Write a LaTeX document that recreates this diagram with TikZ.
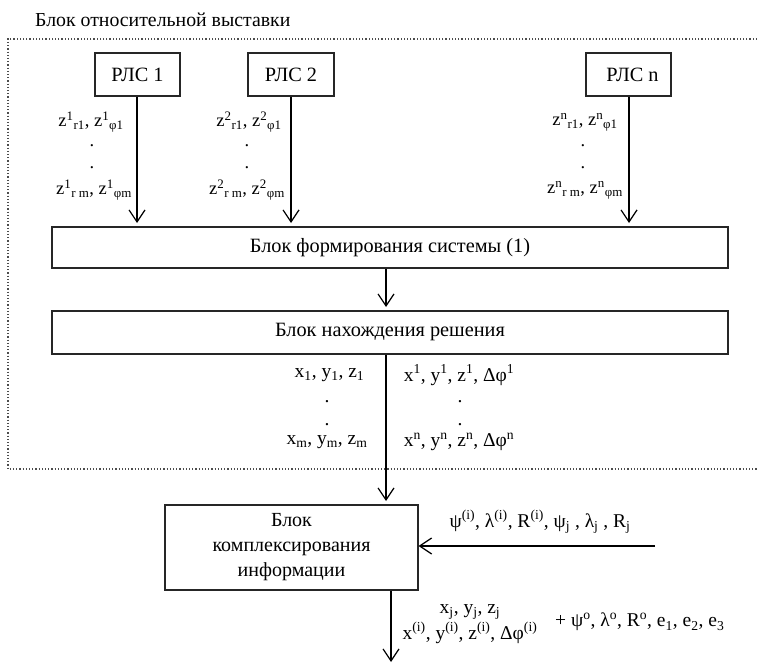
\documentclass[tikz,border=0pt]{standalone}
\usepackage{fontspec}
\setmainfont{Liberation Serif}
\usetikzlibrary{arrows.meta}
\newcommand{\sps}[1]{\textsuperscript{#1}}
\newcommand{\sbs}[1]{\textsubscript{#1}}
\begin{document}
\begin{tikzpicture}[x=1pt,y=-1pt,
  box/.style={draw=black!85, line width=1.2pt, inner sep=0, font=\fontsize{20.3}{24}\selectfont},
  arr/.style={line width=1.2pt, -{Straight Barb[length=12pt,width=16pt,line width=1.2pt]}},
  lbl/.style={inner sep=0, font=\fontsize{18.5}{22}\selectfont},
  slbl/.style={inner sep=0, font=\fontsize{19.5}{22}\selectfont},
  frame/.style={draw=black!70, line width=1.2pt, dotted}]
\useasboundingbox (0,0) rectangle (757,666);
\node[anchor=west, inner sep=0, font=\fontsize{19.8}{22}\selectfont] (title) at (35,20) {Блок относительной выставки};
\draw[frame] (757,39) -- (8,39) -- (8,469) -- (757,469);

\node[box, minimum width=85pt, minimum height=43pt] (r1) at (137.5,74.5) {РЛС 1};
\node[box, minimum width=86pt, minimum height=43pt] (r2) at (291,74.5) {РЛС 2};
\node[box, minimum width=85pt, minimum height=43pt] (rn) at (628.5,74.5) {\hspace*{8pt}РЛС n};

\node[box, minimum width=676pt, minimum height=41pt] (f1) at (390,247.5) {Блок формирования системы (1)};
\node[box, minimum width=676pt, minimum height=43pt] (f2) at (390,332.5) {Блок нахождения решения};

% labels of the radar outputs
\node[lbl] (l1a) at (91,122) {z\sps{1}\sbs{r1}, z\sps{1}\sbs{φ1}};
\node[lbl] (l1b) at (92,146) {.};
\node[lbl] (l1c) at (92,168) {.};
\node[lbl] (l1d) at (94,190) {z\sps{1}\sbs{r m}, z\sps{1}\sbs{φm}};
\node[lbl] (l2a) at (249,122) {z\sps{2}\sbs{r1}, z\sps{2}\sbs{φ1}};
\node[lbl] (l2b) at (247,146) {.};
\node[lbl] (l2c) at (247,168) {.};
\node[lbl] (l2d) at (247,190) {z\sps{2}\sbs{r m}, z\sps{2}\sbs{φm}};
\node[lbl] (lna) at (585,122) {z\sps{n}\sbs{r1}, z\sps{n}\sbs{φ1}};
\node[lbl] (lnb) at (583,146) {.};
\node[lbl] (lnc) at (583,168) {.};
\node[lbl] (lnd) at (585,190) {z\sps{n}\sbs{r m}, z\sps{n}\sbs{φm}};

\coordinate (t1) at (137,223);
\coordinate (t2) at (291,223);
\coordinate (tn) at (629,223);
\draw[arr] (r1.south -| t1) -- (t1);
\draw[arr] (r2.south -| t2) -- (t2);
\draw[arr] (rn.south -| tn) -- (tn);
\coordinate (a2) at (386,307);
\draw[arr] (f1.south -| a2) -- (a2);

% labels of the solution
\node[slbl] (s1a) at (329.5,375) {x\sbs{1}, y\sbs{1}, z\sbs{1}};
\node[slbl] (s1b) at (327,402) {.};
\node[slbl] (s1c) at (327,425) {.};
\node[slbl] (s1d) at (327,442) {x\sbs{m}, y\sbs{m}, z\sbs{m}};
\node[slbl] (s2a) at (459,375) {x\sps{1}, y\sps{1}, z\sps{1}, Δφ\sps{1}};
\node[slbl] (s2b) at (460,402) {.};
\node[slbl] (s2c) at (460,425) {.};
\node[slbl] (s2d) at (459,442) {x\sps{n}, y\sps{n}, z\sps{n}, Δφ\sps{n}};

\node[box, minimum width=253pt, minimum height=85pt, align=center, font=\fontsize{20}{25}\selectfont] (c) at (291.5,547.5) {Блок\\комплексирования\\информации};
\coordinate (cin) at (386,501);
\draw[arr] (f2.south -| cin) -- (cin);
\coordinate (src) at (655,546);
\draw[arr] (src) -- (src -| c.east);
\node[slbl] (pl) at (540,522) {ψ\sps{(i)}, λ\sps{(i)}, R\sps{(i)}, ψ\sbs{j} , λ\sbs{j} , R\sbs{j}};
\coordinate (out) at (391,662);
\draw[arr] (c.south -| out) -- (out);
\node[slbl] (o1) at (470,612) {x\sbs{j}, y\sbs{j}, z\sbs{j}};
\node[slbl] (o2) at (470,633) {x\sps{(i)}, y\sps{(i)}, z\sps{(i)}, Δφ\sps{(i)}};
\node[slbl, anchor=west] (o3) at (555,622) {+ ψ\sps{o}, λ\sps{o}, R\sps{o}, e\sbs{1}, e\sbs{2}, e\sbs{3}};
\end{tikzpicture}
\end{document}
